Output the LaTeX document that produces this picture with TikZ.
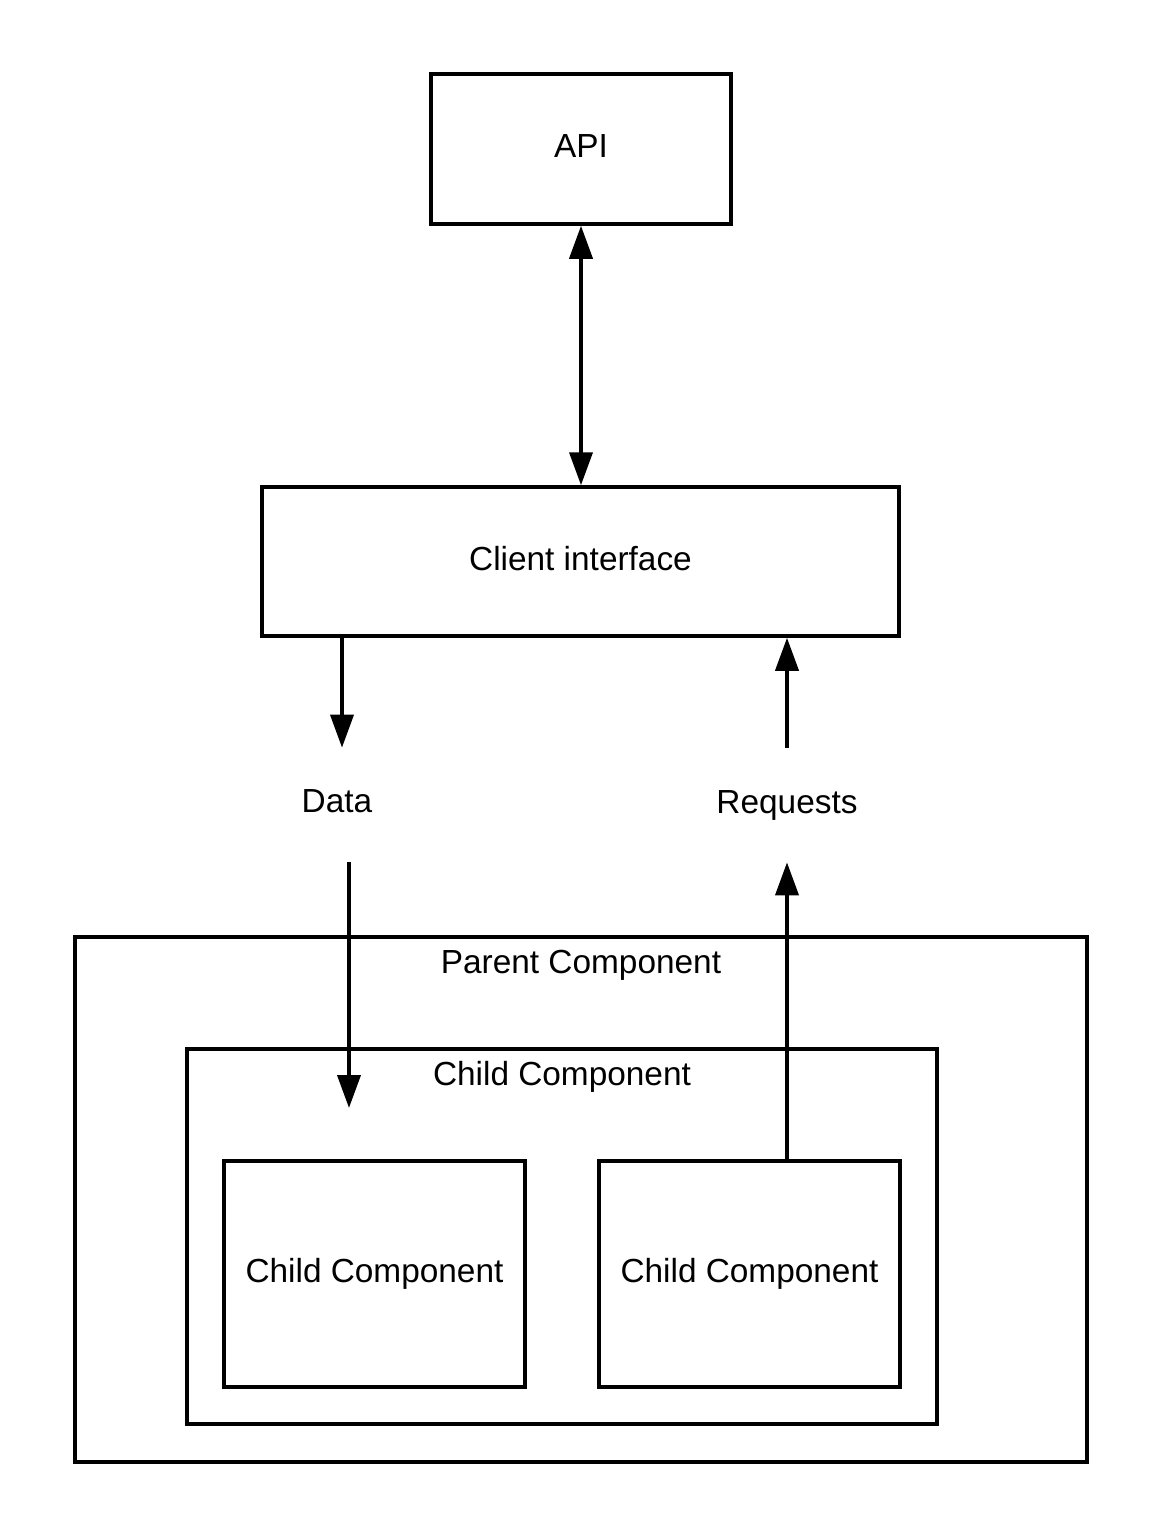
\documentclass[tikz,border=0pt]{standalone}
\usepackage{fontspec}
\setmainfont{Liberation Sans}
\usepackage{tikz}
\usetikzlibrary{arrows.meta}
\usetikzlibrary{positioning}
\usetikzlibrary{math}
\tikzstyle{box} = [rectangle, draw=black, line width=2pt, fill=none, text centered, inner sep=0pt]
\tikzstyle{tag} = [rectangle, inner sep=0pt, minimum height=2.28cm]
\tikzstyle{arrow} = [-{Triangle[length=0.66cm,width=0.46cm]}, line width=2.2pt]
\tikzstyle{twoway} = [{Triangle[length=0.66cm,width=0.46cm]}-{Triangle[length=0.66cm,width=0.46cm]}, line width=2.2pt]

\begin{document}
\begin{tikzpicture}[font=\fontsize{19}{23}\selectfont]

  \tikzmath{\xmax = 23.26; \ymax = 30.76;}
  \useasboundingbox (0,0) rectangle (\xmax,-\ymax);
  % % comment out
  % \draw[step=1cm,gray,very thin] (0,-\ymax) grid (\xmax,0);

  % top
  \node[box, minimum width=6cm, minimum height=3cm] (api) at (11.62,-2.98) {\raisebox{0.12cm}{API}};
  \node[box, minimum width=12.74cm, minimum height=2.98cm] (client) at (11.61,-11.23) {\raisebox{0.12cm}{Client interface}};

  % middle labels
  \node[tag] (data) at (6.74,-16.1) {\raisebox{0.16cm}{Data}};
  \node[tag] (requests) at (15.74,-16.1) {Requests};

  % components
  \begin{scope}
    \node[box, minimum width=20.24cm, minimum height=10.5cm] (parent) at (11.62,-23.99) {};
    \node[below=0.6cm of parent.north, anchor=center] (parenttext) {Parent Component};
    \node[box, minimum width=15cm, minimum height=7.5cm] (childouter) at (11.24,-24.73) {};
    \node[below=0.6cm of childouter.north, anchor=center] (childtext) {Child Component};
    \node[box, minimum width=6.02cm, minimum height=4.52cm] (childa) at (7.49,-25.48) {Child Component};
    \node[box, minimum width=6.02cm, minimum height=4.52cm] (childb) at (14.99,-25.48) {Child Component};
  \end{scope}

  % connectors
  \coordinate (dxa) at (6.84,0);
  \coordinate (dxb) at (6.98,0);
  \coordinate (dend) at (6.98,-22.16);

  \draw[twoway] (api.south) -- (api.south |- client.north);
  \draw[arrow] (client.south -| dxa) -- (data.north -| dxa);
  \draw[arrow] (requests.north) -- (requests.north |- client.south);
  \draw[arrow] (data.south -| dxb) -- (dend);
  \draw[arrow] (childb.north -| requests.south) -- (requests.south);

\end{tikzpicture}
\end{document}
